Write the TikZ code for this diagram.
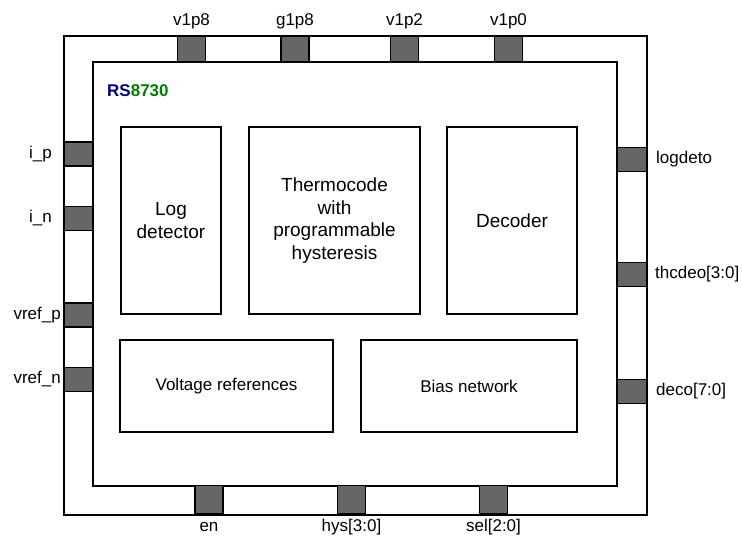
\documentclass[tikz,border=0pt]{standalone}
\usepackage{fontspec}
\setmainfont{Liberation Sans}
\definecolor{padgray}{HTML}{666666}
\definecolor{rsblue}{HTML}{000080}
\definecolor{rsgreen}{HTML}{008000}
\begin{document}
\begin{tikzpicture}[x=1pt,y=-1pt,
  frame/.style={draw=black,line width=2pt},
  pad/.style={draw=black,line width=1.6pt,fill=padgray,inner sep=0pt},
  hpad/.style={pad,minimum width=28pt,minimum height=26pt},
  vpad/.style={pad,minimum width=29pt,minimum height=24pt},
  bpad/.style={pad,minimum width=28pt,minimum height=28pt},
  block/.style={draw=black,line width=1.5pt,inner sep=0pt,align=center,font=\fontsize{19}{22.5}\selectfont},
  wblock/.style={block,font=\fontsize{17}{20}\selectfont},
  lbl/.style={font=\fontsize{17}{20}\selectfont,inner sep=0pt}]
\useasboundingbox (0,0) rectangle (742,536);
% outer and inner frames
\node[frame,minimum width=583pt,minimum height=479pt,inner sep=0pt] (outer) at (355.5,275.5) {};
\node[frame,fill=white,minimum width=524pt,minimum height=424pt,inner sep=0pt] (inner) at (355,274) {};
% logo
\node[anchor=base west,inner sep=0pt,font=\fontsize{17}{20}\selectfont\bfseries] (logo) at (107,96) {\textcolor{rsblue}{RS}\textcolor{rsgreen}{8730}};
% top pads
\node[hpad] (pv1p8) at (191.5,49) {};
\node[hpad] (pg1p8) at (295,49) {};
\node[hpad] (pv1p2) at (404.5,49) {};
\node[hpad] (pv1p0) at (508.5,49) {};
\node[lbl,anchor=base] (lv1p8) at (191.5,25) {v1p8};
\node[lbl,anchor=base] (lg1p8) at (295,25) {g1p8};
\node[lbl,anchor=base] (lv1p2) at (404.5,25) {v1p2};
\node[lbl,anchor=base] (lv1p0) at (508.5,25) {v1p0};
% left pads
\node[vpad] (pip) at (78.5,154) {};
\node[vpad] (pin) at (78.5,218.5) {};
\node[vpad] (pvrefp) at (78.5,315) {};
\node[vpad] (pvrefn) at (78.5,379.5) {};
\node[lbl,anchor=east] (lip) at (52,154) {i\_p};
\node[lbl,anchor=east] (lin) at (52,218.5) {i\_n};
\node[lbl,anchor=east] (lvrefp) at (61,315) {vref\_p};
\node[lbl,anchor=east] (lvrefn) at (61,379.5) {vref\_n};
% right pads
\node[vpad,minimum width=30pt] (plog) at (632,159.5) {};
\node[vpad,minimum width=30pt] (pthc) at (632,274.5) {};
\node[vpad,minimum width=30pt] (pdeco) at (632,391.5) {};
\node[lbl,anchor=west] (llog) at (656,159.5) {logdeto};
\node[lbl,anchor=west] (lthc) at (655,274.5) {thcdeo[3:0]};
\node[lbl,anchor=west] (ldeco) at (656,391.5) {deco[7:0]};
% bottom pads
\node[bpad] (pen) at (209,499.5) {};
\node[bpad] (phys) at (351.5,499.5) {};
\node[bpad] (psel) at (493.5,499.5) {};
\node[lbl,anchor=base] (len) at (209,531.5) {en};
\node[lbl,anchor=base] (lhys) at (351.5,531) {hys[3:0]};
\node[lbl,anchor=base] (lsel) at (493.5,531) {sel[2:0]};
% blocks
\node[block,minimum width=100pt,minimum height=187pt] (logdet) at (171,220.5) {Log\\detector};
\node[block,minimum width=171pt,minimum height=187pt] (thermo) at (334.5,220.5) {Thermocode\\with\\programmable\\hysteresis};
\node[block,minimum width=130pt,minimum height=187pt] (dec) at (512,220.5) {Decoder};
\node[wblock,minimum width=213pt,minimum height=92pt] (vref) at (226.5,386) {Voltage references};
\node[wblock,minimum width=216pt,minimum height=92pt] (bias) at (469,386) {Bias network};
\end{tikzpicture}
\end{document}
